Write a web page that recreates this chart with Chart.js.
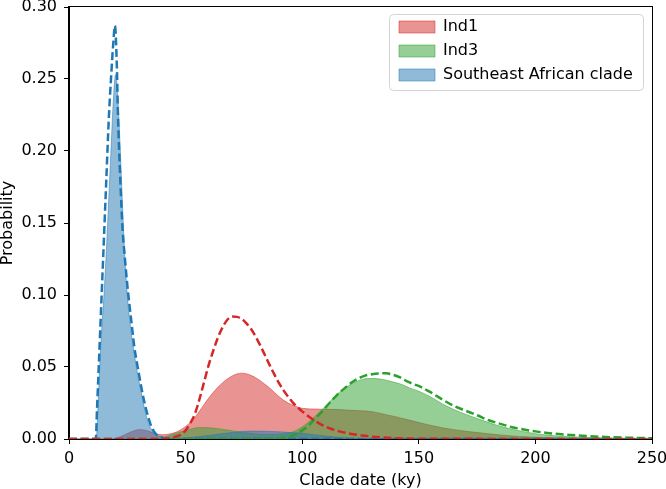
<!DOCTYPE html>
<html>
<head>
<meta charset="utf-8">
<script src="https://cdn.jsdelivr.net/npm/chart.js@4"></script>
<style>
html,body{margin:0;padding:0;background:#fff;}
canvas{display:block;}
</style>
</head>
<body>
<canvas id="c" width="666" height="489"></canvas>
<script>
// ---- Data (x = clade date in ky, y = probability) ----
const seriesNames = ['Ind1', 'Ind3', 'Southeast African clade'];

// Ind1 posterior (filled)
const ind1X = [0, 18, 20, 22, 24, 26, 28, 30, 32, 34, 36, 38, 40, 42, 44, 46, 48, 50, 52, 54, 56, 58, 60, 62, 64, 66, 68, 70, 72, 74, 76, 78, 80, 82, 84, 86, 88, 90, 92, 94, 96, 98, 100, 105, 110, 115, 120, 125, 130, 135, 140, 145, 150, 155, 160, 165, 170, 175, 180, 185, 190, 195, 200, 210, 220, 230, 250];
const ind1Y = [0, 0, 0.0005, 0.0015, 0.003, 0.0045, 0.0058, 0.0065, 0.0063, 0.0055, 0.0043, 0.0033, 0.003, 0.0032, 0.0038, 0.0048, 0.0065, 0.0087, 0.0115, 0.015, 0.0195, 0.0242, 0.0286, 0.0326, 0.0362, 0.0393, 0.0418, 0.0438, 0.0452, 0.0457, 0.0453, 0.0442, 0.0426, 0.0405, 0.038, 0.0355, 0.0325, 0.0295, 0.027, 0.025, 0.0235, 0.0222, 0.0213, 0.0208, 0.0206, 0.0205, 0.020, 0.0196, 0.019, 0.0172, 0.0155, 0.0135, 0.0115, 0.0095, 0.0078, 0.0065, 0.0054, 0.0045, 0.0036, 0.0028, 0.0021, 0.0016, 0.0012, 0.0007, 0.0004, 0.0002, 0];

// Ind1 dashed curve
const ind1DashX = [0, 40, 44, 46, 48, 50, 52, 54, 56, 58, 60, 62, 64, 66, 68, 70, 72, 74, 76, 78, 80, 82, 84, 86, 88, 90, 92, 94, 96, 98, 100, 104, 108, 112, 116, 120, 125, 130, 135, 140, 150, 250];
const ind1DashY = [0, 0, 0.0008, 0.0018, 0.003, 0.006, 0.011, 0.0175, 0.028, 0.04, 0.052, 0.062, 0.071, 0.078, 0.083, 0.085, 0.0848, 0.0835, 0.0805, 0.0765, 0.0712, 0.065, 0.0583, 0.0515, 0.045, 0.039, 0.0338, 0.0293, 0.0253, 0.022, 0.0192, 0.0142, 0.0102, 0.0073, 0.0053, 0.0039, 0.0026, 0.0016, 0.001, 0.0006, 0.0002, 0];

// Ind3 posterior (filled)
const ind3X = [0, 35, 40, 44, 48, 52, 56, 60, 64, 68, 72, 76, 80, 84, 88, 92, 95, 98, 101, 104, 107, 110, 113, 116, 119, 122, 125, 128, 131, 134, 137, 140, 143, 146, 150, 155, 160, 165, 170, 175, 180, 185, 190, 195, 200, 205, 210, 220, 230, 240, 250];
const ind3Y = [0, 0, 0.001, 0.003, 0.005, 0.0068, 0.008, 0.0078, 0.0072, 0.0062, 0.0052, 0.0042, 0.0035, 0.0032, 0.0032, 0.0036, 0.0045, 0.0065, 0.0095, 0.0135, 0.018, 0.0228, 0.028, 0.0325, 0.036, 0.039, 0.041, 0.042, 0.042, 0.0415, 0.0405, 0.0392, 0.0377, 0.0355, 0.0332, 0.0293, 0.0245, 0.0205, 0.0172, 0.0142, 0.0114, 0.0088, 0.0068, 0.0051, 0.0037, 0.0027, 0.002, 0.0012, 0.0007, 0.0003, 0];

// Ind3 dashed curve
const ind3DashX = [0, 85, 90, 94, 97, 100, 103, 106, 109, 112, 115, 118, 121, 124, 127, 130, 133, 136, 139, 142, 145, 148, 151, 155, 160, 165, 170, 175, 180, 185, 190, 195, 200, 205, 210, 215, 220, 230, 240, 250];
const ind3DashY = [0, 0, 0.0005, 0.0014, 0.003, 0.006, 0.0098, 0.0148, 0.020, 0.0255, 0.0307, 0.035, 0.039, 0.042, 0.044, 0.045, 0.0455, 0.0456, 0.0445, 0.0428, 0.040, 0.038, 0.036, 0.0325, 0.0275, 0.023, 0.0197, 0.0165, 0.013, 0.0105, 0.0082, 0.0066, 0.0053, 0.0042, 0.0034, 0.0028, 0.0023, 0.0014, 0.0009, 0.0005];

// Southeast African clade posterior (filled)
const seaX = [0, 11, 11.8, 12.5, 13.3, 14, 15, 16, 17, 18, 19, 20, 21, 22, 23, 24, 25, 26, 27, 28, 29, 30, 31, 32, 33, 34, 35, 36, 38, 40, 45, 50, 55, 60, 65, 70, 75, 80, 85, 90, 95, 100, 105, 110, 115, 120, 130, 140, 250];
const seaY = [0, 0, 0.002, 0.025, 0.055, 0.075, 0.1, 0.13, 0.165, 0.2, 0.235, 0.253, 0.235, 0.2, 0.16, 0.125, 0.1, 0.083, 0.07, 0.059, 0.049, 0.04, 0.032, 0.024, 0.017, 0.011, 0.0075, 0.005, 0.0025, 0.0012, 0.0005, 0.0008, 0.0015, 0.0025, 0.0035, 0.0045, 0.0053, 0.0055, 0.0053, 0.005, 0.0045, 0.004, 0.003, 0.002, 0.0012, 0.0007, 0.0003, 0.0001, 0];

// Southeast African clade dashed curve
const seaDashX = [0, 11, 11.5, 12, 13, 14, 15, 16, 17, 18, 19, 19.7, 20.5, 21, 22, 23, 24, 25, 26, 27, 28, 29, 30, 31, 32, 33, 34, 35, 36, 37, 38, 40, 42, 45, 250];
const seaDashY = [0, 0, 0, 0.02, 0.06, 0.10, 0.14, 0.18, 0.22, 0.25, 0.275, 0.287, 0.26, 0.225, 0.18, 0.145, 0.125, 0.107, 0.092, 0.078, 0.064, 0.054, 0.045, 0.036, 0.028, 0.021, 0.015, 0.01, 0.0065, 0.004, 0.0025, 0.001, 0.0003, 0, 0];

// Axis ticks
const xTicks = [0, 50, 100, 150, 200, 250];
const yTicks = [0, 0.05, 0.10, 0.15, 0.20, 0.25, 0.30];

// ---- Build ----
const pts = (xs, ys) => xs.map((x, i) => ({x: x, y: ys[i]}));
const RED = [214, 39, 40], GREEN = [44, 160, 44], BLUE = [31, 119, 180];
const rgba = (c, a) => `rgba(${c[0]},${c[1]},${c[2]},${a})`;

function filled(label, xs, ys, c, order) {
  return {
    label, data: pts(xs, ys), fill: 'origin',
    backgroundColor: rgba(c, 0.5), borderColor: rgba(c, 0.5), borderWidth: 1,
    pointRadius: 0, cubicInterpolationMode: 'monotone', order, isFill: true
  };
}
function dashed(label, xs, ys, c) {
  return {
    label, data: pts(xs, ys), fill: false,
    borderColor: rgba(c, 1), backgroundColor: rgba(c, 1), borderWidth: 2.5,
    borderDash: [8, 3.6], pointRadius: 0, cubicInterpolationMode: 'monotone', order: 0
  };
}

Chart.defaults.font.family = "'DejaVu Sans', sans-serif";
Chart.defaults.color = '#000';

const framePlugin = {
  id: 'frame',
  afterLayout(chart) {
    const lg = chart.legend, ca = chart.chartArea;
    if (!lg) return;
    const w = lg.width, h = lg.height;
    lg.left = ca.right - 261;
    lg.right = lg.left + w;
    lg.top = ca.top + 4;
    lg.bottom = lg.top + h;
    if (lg.adjustHitBoxes) lg.adjustHitBoxes();
  },
  afterDatasetsDraw(chart) {
    const ctx = chart.ctx, ca = chart.chartArea;
    ctx.save();
    ctx.strokeStyle = '#000';
    ctx.lineWidth = 1;
    ctx.strokeRect(Math.round(ca.left) - 0.5, Math.round(ca.top) - 0.5,
                   Math.round(ca.right - ca.left) + 1, Math.round(ca.bottom - ca.top) + 1);
    ctx.restore();
  },
  afterDraw(chart) {
    const ctx = chart.ctx, ca = chart.chartArea;
    const x = Math.round(ca.right - 263) + 0.5, y = Math.round(ca.top + 7) + 0.5, w = 254, h = 76, r = 4;
    ctx.save();
    ctx.strokeStyle = '#d4d4d4';
    ctx.lineWidth = 1;
    ctx.beginPath();
    ctx.moveTo(x + r, y);
    ctx.lineTo(x + w - r, y); ctx.arcTo(x + w, y, x + w, y + r, r);
    ctx.lineTo(x + w, y + h - r); ctx.arcTo(x + w, y + h, x + w - r, y + h, r);
    ctx.lineTo(x + r, y + h); ctx.arcTo(x, y + h, x, y + h - r, r);
    ctx.lineTo(x, y + r); ctx.arcTo(x, y, x + r, y, r);
    ctx.closePath();
    ctx.stroke();
    ctx.restore();
  }
};

new Chart(document.getElementById('c'), {
  type: 'line',
  data: {
    datasets: [
      filled(seriesNames[0], ind1X, ind1Y, RED, 3),
      filled(seriesNames[1], ind3X, ind3Y, GREEN, 2),
      filled(seriesNames[2], seaX, seaY, BLUE, 1),
      dashed(seriesNames[0] + ' (dashed)', ind1DashX, ind1DashY, RED),
      dashed(seriesNames[1] + ' (dashed)', ind3DashX, ind3DashY, GREEN),
      dashed(seriesNames[2] + ' (dashed)', seaDashX, seaDashY, BLUE)
    ]
  },
  options: {
    responsive: false,
    animation: false,
    devicePixelRatio: 1,
    layout: { padding: { top: 7, right: 14, left: 0, bottom: 0 } },
    plugins: {
      tooltip: { enabled: false },
      legend: {
        position: 'chartArea',
        align: 'start',
        labels: {
          font: { size: 16 },
          color: '#000',
          boxWidth: 36,
          boxHeight: 12,
          padding: 8,
          filter: (item, data) => data.datasets[item.datasetIndex].isFill === true,
          sort: (a, b) => a.datasetIndex - b.datasetIndex
        }
      }
    },
    scales: {
      x: {
        type: 'linear',
        min: 0, max: 250,
        afterBuildTicks: (s) => { s.ticks = xTicks.map(v => ({value: v})); },
        afterFit: (s) => { s.height = 50; s.paddingLeft = 0; s.paddingRight = 0; },
        ticks: { font: { size: 16 }, color: '#000', padding: 5, maxRotation: 0 },
        grid: { display: true, drawOnChartArea: false, drawTicks: true, tickLength: 5, color: '#000', tickWidth: 1 },
        border: { display: true, color: '#000', width: 1 },
        title: { display: true, text: 'Clade date (ky)', font: { size: 16, lineHeight: 1 }, color: '#000', padding: { top: 0, bottom: 0 } }
      },
      y: {
        type: 'linear',
        min: 0, max: 0.30,
        afterBuildTicks: (s) => { s.ticks = yTicks.map(v => ({value: v})); },
        afterFit: (s) => { s.width = 69; s.paddingTop = 0; s.paddingBottom = 0; },
        ticks: { font: { size: 16 }, color: '#000', padding: 7, callback: (v) => Number(v).toFixed(2) },
        grid: { display: true, drawOnChartArea: false, drawTicks: true, tickLength: 5, color: '#000', tickWidth: 1 },
        border: { display: true, color: '#000', width: 1 },
        title: { display: true, text: 'Probability', font: { size: 16, lineHeight: 1 }, color: '#000', padding: { top: 0, bottom: 0 } }
      }
    }
  },
  plugins: [framePlugin]
});
</script>
</body>
</html>
